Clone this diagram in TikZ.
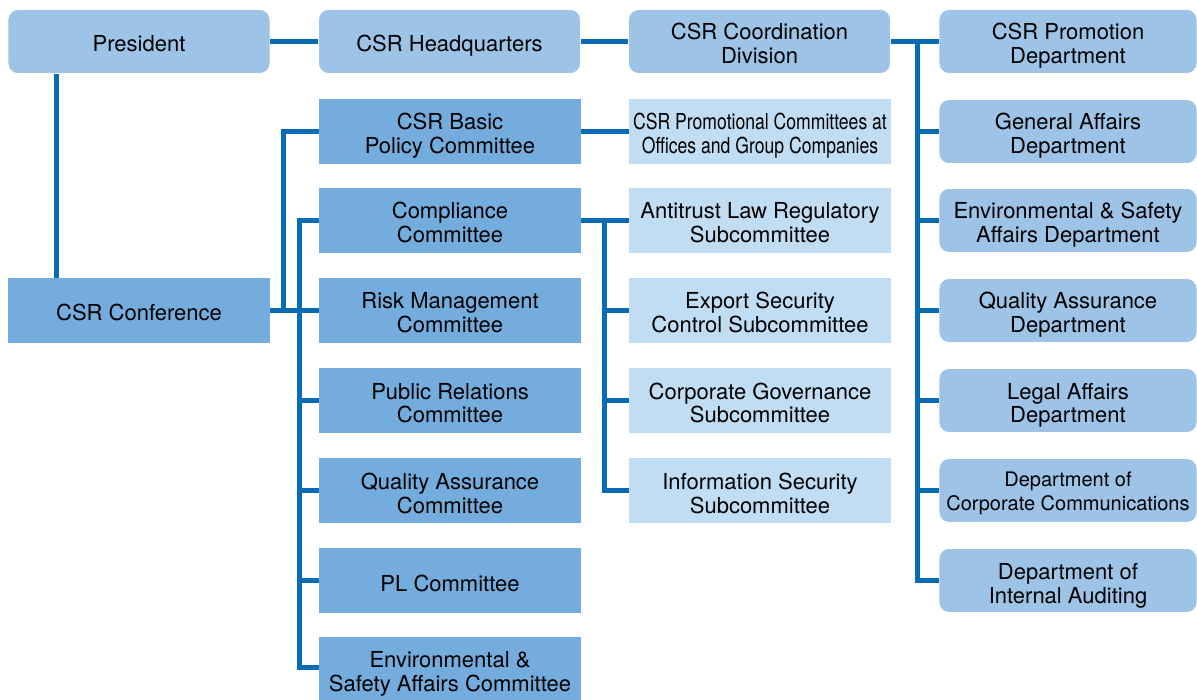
\documentclass[tikz,border=0pt]{standalone}
\usepackage{fontspec}
\setmainfont{TeX Gyre Heros}
\usepackage{tikz}
\usepackage{xcolor}
\usetikzlibrary{positioning}
\definecolor{roundblue}{HTML}{9DC3E6}
\definecolor{midblue}{HTML}{74ADDD}
\definecolor{paleblue}{HTML}{C0DDF3}
\definecolor{linkblue}{HTML}{0A6BB5}

\begin{document}
\begin{tikzpicture}[x=1pt, y=-1pt,
  twoline/.style={text height=45pt, text depth=0pt},
  oneline/.style={text height=21pt, text depth=0pt},
  rbox/.style={fill=roundblue, draw=white, line width=0.8pt, rounded corners=10pt, align=center,
  inner sep=0pt, minimum width=262pt, minimum height=64pt, font=\fontsize{22}{24}\selectfont, twoline},
  mbox/.style={fill=midblue, align=center, inner sep=0pt, minimum width=262pt,
  minimum height=65pt, font=\fontsize{22}{24}\selectfont, twoline},
  pbox/.style={fill=paleblue, align=center, inner sep=0pt, minimum width=262pt,
  minimum height=65pt, font=\fontsize{22}{24}\selectfont, twoline},
  link/.style={draw=linkblue, line width=5pt}
]
\useasboundingbox (0,0) rectangle (1197,700);

% top row
\node[rbox, oneline] (pres) at (139,41.5) {President};
\node[rbox, oneline] (hq) at (449.5,41.5) {CSR Headquarters};
\node[rbox] (coord) at (759.5,41.5) {CSR Coordination\\Division};
\node[mbox, oneline] (conf) at (139,310.5) {CSR Conference};

% committees
\node[mbox] (basic) at (450,131.5) {CSR Basic\\Policy Committee};
\node[mbox] (comp) at (450,220.5) {Compliance\\Committee};
\node[mbox] (risk) at (450,310.5) {Risk Management\\Committee};
\node[mbox] (pr) at (450,400.5) {Public Relations\\Committee};
\node[mbox] (qac) at (450,490.5) {Quality Assurance\\Committee};
\node[mbox, oneline] (pl) at (450,580.5) {PL Committee};
\node[mbox, minimum height=63pt] (envc) at (450,668.5) {Environmental \&\\Safety Affairs Committee};

% subcommittees
\node[pbox] (promc) at (760,131.5) {\scalebox{0.8}[1]{CSR Promotional Committees at}\\\scalebox{0.8}[1]{Offices and Group Companies}};
\node[pbox] (anti) at (760,220.5) {Antitrust Law Regulatory\\Subcommittee};
\node[pbox] (export) at (760,310.5) {Export Security\\Control Subcommittee};
\node[pbox] (gov) at (760,400.5) {Corporate Governance\\Subcommittee};
\node[pbox] (info) at (760,490.5) {Information Security\\Subcommittee};

% departments
\node[rbox, minimum width=258pt] (promd) at (1068,41.5) {CSR Promotion\\Department};
\node[rbox, minimum width=258pt] (gen) at (1068,131.5) {General Affairs\\Department};
\node[rbox, minimum width=258pt] (envd) at (1068,220.5) {Environmental \& Safety\\Affairs Department};
\node[rbox, minimum width=258pt] (qad) at (1068,310.5) {Quality Assurance\\Department};
\node[rbox, minimum width=258pt] (legal) at (1068,400.5) {Legal Affairs\\Department};
\node[rbox, minimum width=258pt, font=\fontsize{20}{24}\selectfont, text height=40pt] (comm) at (1068,490.5) {Department of\\Corporate Communications};
\node[rbox, minimum width=258pt] (audit) at (1068,580.5) {Department of\\Internal Auditing};

% links
\draw[link] (pres.east) -- (hq.west);
\draw[link] (hq.east) -- (coord.west);
\draw[link] ([xshift=49pt]conf.north west) -- ([xshift=49pt]conf.north west |- pres.south);
\draw[link] (conf.east) -- (risk.west);
\draw[link] ([xshift=13pt]conf.east) |- (basic.west);
\draw[link] (comp.west) -- ++(-19pt,0) |- ([yshift=1.5pt]envc.west);
\foreach \n in {pr,qac,pl}
  \draw[link] (\n.west) -- ++(-19pt,0);
\draw[link] (basic.east) -- (promc.west);
\draw[link] (comp.east) -- (anti.west);
\draw[link] ([xshift=23pt]comp.east) |- (info.west);
\foreach \n in {export,gov}
  \draw[link] (\n.west) -- ++(-25pt,0);
\draw[link] (coord.east) -- (promd.west);
\draw[link] ([xshift=27pt]coord.east) |- (audit.west);
\foreach \n in {gen,envd,qad,legal,comm}
  \draw[link] (\n.west) -- ++(-22pt,0);
\end{tikzpicture}
\end{document}
